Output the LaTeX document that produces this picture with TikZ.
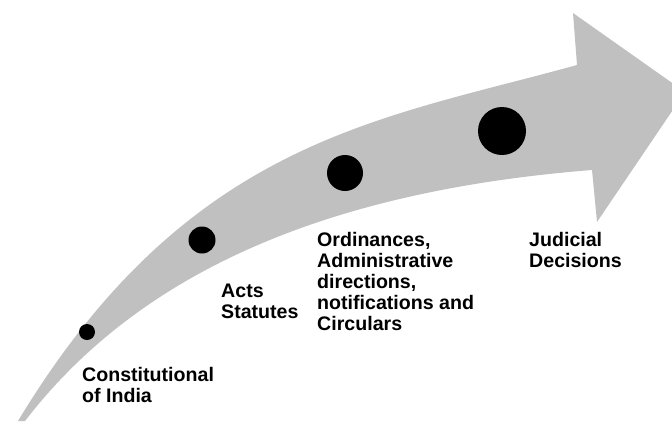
\documentclass[tikz,border=0pt]{standalone}
\usepackage{fontspec}
\setmainfont{Liberation Sans}
\definecolor{arrowgray}{RGB}{192,192,192}
\tikzset{
  stagedot/.style={circle, fill=black, inner sep=0pt},
  stagelabel/.style={anchor=base west, align=left, inner sep=0pt,
    font=\fontsize{19.6}{21}\selectfont\bfseries}
}
\begin{document}
\begin{tikzpicture}[x=1pt, y=-1pt]
  \useasboundingbox (0,0) rectangle (672,421);
  % Curved arrow
  \begin{scope}
    \clip (0,0) rectangle (672,421);
    \fill[arrowgray] (18,421) .. controls (188,140) and (378,120) .. (577,65)
      -- (573,13) -- (685,92) -- (597,222) -- (592,170)
      .. controls (340,190) and (145,265) .. (25,421) -- cycle;
  \end{scope}
  % Stages on the arrow
  \node[stagedot, minimum size=16pt] (const) at (87,332) {};
  \node[stagedot, minimum size=27pt] (acts) at (202,240) {};
  \node[stagedot, minimum size=36pt] (ordin) at (345,173) {};
  \node[stagedot, minimum size=48pt] (judic) at (502,131) {};
  % Labels (placed by the baseline of their last line)
  \node[stagelabel] (constlbl) at (82,402) {Constitutional\\of India};
  \node[stagelabel] (actslbl) at (221,318) {Acts\\Statutes};
  \node[stagelabel] (ordinlbl) at (317,330) {Ordinances,\\Administrative\\directions,\\notifications and\\Circulars};
  \node[stagelabel] (judiclbl) at (529,267) {Judicial\\Decisions};
\end{tikzpicture}
\end{document}
